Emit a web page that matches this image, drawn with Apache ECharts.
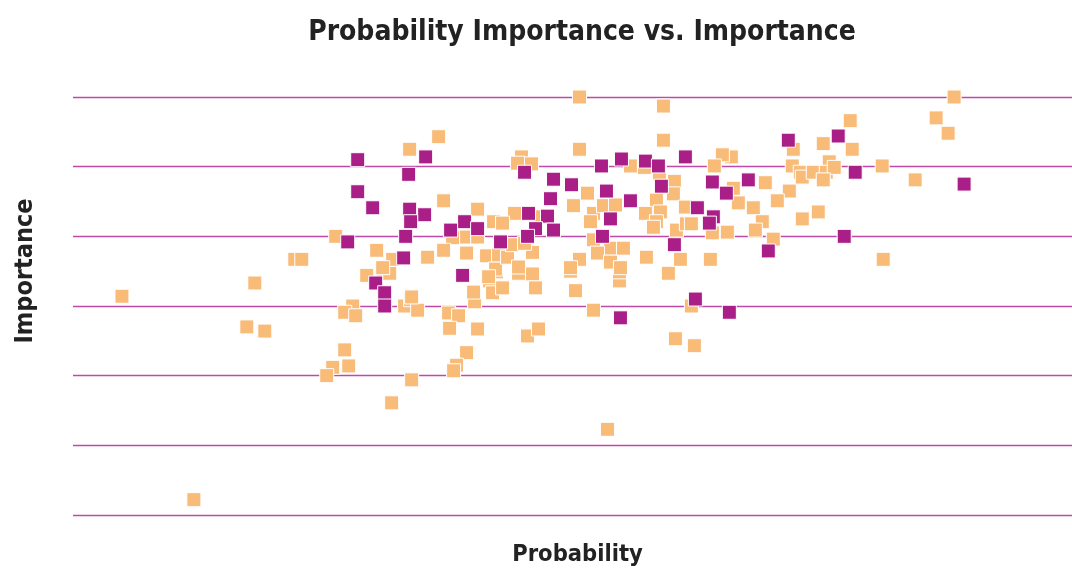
<!DOCTYPE html>
<html>
<head>
<meta charset="utf-8">
<script src="https://cdn.jsdelivr.net/npm/echarts@6/dist/echarts.min.js"></script>
<style>
html,body{margin:0;padding:0;background:#fff;}
#chart{width:1072px;height:569px;}
</style>
</head>
<body>
<div id="chart"></div>
<script>
// ---- Data (Probability, Importance) ----
var titleText = "Probability Importance vs. Importance";
var xAxisName = "Probability";
var yAxisName = "Importance";

var orangePoints = [
  [4.9,31.4],[12.1,2.2],[18.2,33.3],[17.4,27.0],[19.2,26.4],[22.2,36.7],[22.9,36.7],[26.3,40.0],
  [27.2,23.7],[26.0,21.2],[27.6,21.4],[25.4,20.0],[31.9,16.1],[33.9,19.4],[39.4,23.3],[38.4,21.5],
  [38.1,20.7],[45.5,25.7],[46.6,26.7],[52.1,29.4],[61.9,30.0],[60.3,25.3],[62.2,24.3],[53.5,12.3],
  [28.0,30.0],[27.2,29.1],[28.3,28.6],[33.2,30.0],[33.8,30.9],[34.5,29.4],[37.6,29.0],[38.6,28.6],
  [37.7,26.8],[40.5,26.7],[40.2,30.6],[40.1,32.0],[33.9,31.3],[29.4,34.4],[31.0,34.9],[31.7,34.7],
  [41.7,33.6],[42.0,31.9],[42.4,34.9],[43.0,32.6],[44.6,34.7],[46.0,34.6],[46.3,32.6],[49.8,35.0],
  [50.3,32.2],[54.7,33.6],[54.7,34.9],[59.6,34.7],[50.7,60.0],[59.1,58.7],[36.6,54.3],[33.7,52.5],
  [50.7,52.5],[59.1,53.8],[44.9,51.4],[44.5,50.5],[45.9,50.4],[55.8,50.1],[57.2,49.9],[58.7,49.1],
  [60.2,47.9],[60.1,46.1],[58.4,45.2],[51.5,46.2],[50.1,44.4],[37.1,45.1],[44.2,43.3],[42.1,42.1],
  [40.5,43.9],[40.5,39.9],[39.1,39.9],[38.0,39.8],[30.4,38.0],[32.0,36.7],[31.0,35.5],[35.5,37.0],
  [37.1,38.0],[39.4,37.6],[41.4,37.2],[42.6,37.3],[42.3,35.3],[41.6,34.2],[43.5,37.0],[46.7,42.8],
  [43.0,41.9],[52.1,43.3],[53.1,44.4],[54.3,44.5],[57.3,43.3],[58.8,43.5],[58.4,42.1],[60.4,40.9],
  [61.3,44.2],[61.4,41.8],[52.1,39.5],[53.8,38.3],[55.1,38.3],[52.5,37.6],[53.8,36.3],[54.8,35.5],
  [50.7,36.7],[49.8,35.5],[46.0,37.7],[44.6,35.6],[44.0,38.8],[45.2,39.0],[57.4,37.0],[60.8,36.7],
  [58.1,41.3],[51.8,42.1],
  [77.8,56.6],[75.1,53.3],[78.0,52.5],[72.1,52.5],[65.9,51.4],[65.0,51.7],[64.2,50.1],[72.0,50.1],
  [72.8,49.2],[73.0,48.5],[74.1,49.2],[75.7,50.7],[75.4,49.2],[76.2,49.9],[75.1,48.1],[81.0,50.1],
  [69.3,47.7],[66.1,46.9],[71.7,46.5],[66.6,44.8],[68.1,44.1],[70.5,45.1],[69.0,42.1],[68.3,40.9],
  [65.5,40.6],[64.0,40.5],[70.1,39.6],[73.0,42.5],[74.6,43.5],[63.8,36.7],[81.1,36.7],[88.2,60.0],
  [86.4,57.0],[87.6,54.8],[84.3,48.1],[61.9,41.8]
];

var magentaPoints = [
  [28.5,51.0],[35.3,51.4],[33.6,48.9],[28.5,46.4],[30.0,44.1],[33.7,43.9],[35.2,43.1],[33.8,42.1],
  [27.5,39.2],[33.3,40.0],[33.1,36.9],[30.3,33.3],[31.2,31.9],[31.2,30.0],[39.0,34.4],[37.8,40.9],
  [39.2,42.1],[40.5,41.1],[42.8,39.2],[45.2,49.2],[48.1,48.2],[49.9,47.4],[52.9,50.1],[54.9,51.1],
  [57.3,50.8],[58.6,50.1],[61.3,51.4],[47.8,45.4],[53.4,46.5],[55.8,45.1],[58.9,47.2],[45.6,43.3],
  [47.5,42.9],[53.8,42.5],[46.3,41.1],[48.1,40.9],[45.5,40.0],[53.0,40.0],[60.2,38.8],[62.5,44.1],
  [64.0,47.8],[65.4,46.2],[67.6,48.1],[64.1,42.8],[63.7,41.9],[69.6,37.9],[71.6,53.8],[76.6,54.4],
  [78.3,49.2],[77.2,40.0],[89.2,47.5],[62.3,31.0],[65.7,29.1],[54.8,28.3]
];

var xMin = 0, xMax = 100;
var yMin = 0, yMax = 60, yInterval = 10;

var FONT = "'Liberation Sans Narrow', 'DejaVu Sans Condensed', 'Liberation Sans', sans-serif";

var chart = echarts.init(document.getElementById('chart'), null, {renderer: 'canvas'});
chart.setOption({
  animation: false,
  backgroundColor: '#ffffff',
  title: {
    text: titleText,
    left: 577,
    textAlign: 'center',
    top: 14,
    textStyle: {fontFamily: FONT, fontSize: 28, fontWeight: 'bold', color: '#222222'}
  },
  grid: {left: 73, right: 0, top: 97, bottom: 54, containLabel: false, outerBoundsMode: 'none'},
  xAxis: {
    type: 'value', min: xMin, max: xMax,
    name: xAxisName, nameLocation: 'middle', nameGap: 28,
    nameTextStyle: {fontFamily: FONT, fontSize: 23.5, fontWeight: 'bold', color: '#222222', padding: [0, 0, 0, 10]},
    axisLine: {show: false}, axisTick: {show: false}, axisLabel: {show: false},
    splitLine: {show: false}
  },
  yAxis: {
    type: 'value', min: yMin, max: yMax, interval: yInterval,
    name: yAxisName, nameLocation: 'middle', nameGap: 35, nameRotate: 90,
    nameTextStyle: {fontFamily: FONT, fontSize: 25, fontWeight: 'bold', color: '#222222', padding: [0, 0, 0, 70]},
    axisLine: {show: false}, axisTick: {show: false}, axisLabel: {show: false},
    splitLine: {show: true, lineStyle: {color: '#BE4AA6', width: 1.4}}
  },
  series: [
    {
      name: 'Orange', type: 'scatter', symbol: 'rect', symbolSize: 14,
      data: orangePoints,
      itemStyle: {color: '#F8BB78', borderColor: '#ffffff', borderWidth: 1, opacity: 1}
    },
    {
      name: 'Magenta', type: 'scatter', symbol: 'rect', symbolSize: 14,
      data: magentaPoints,
      itemStyle: {color: '#AA1E87', borderColor: '#ffffff', borderWidth: 1, opacity: 1}
    }
  ]
});
</script>
</body>
</html>
